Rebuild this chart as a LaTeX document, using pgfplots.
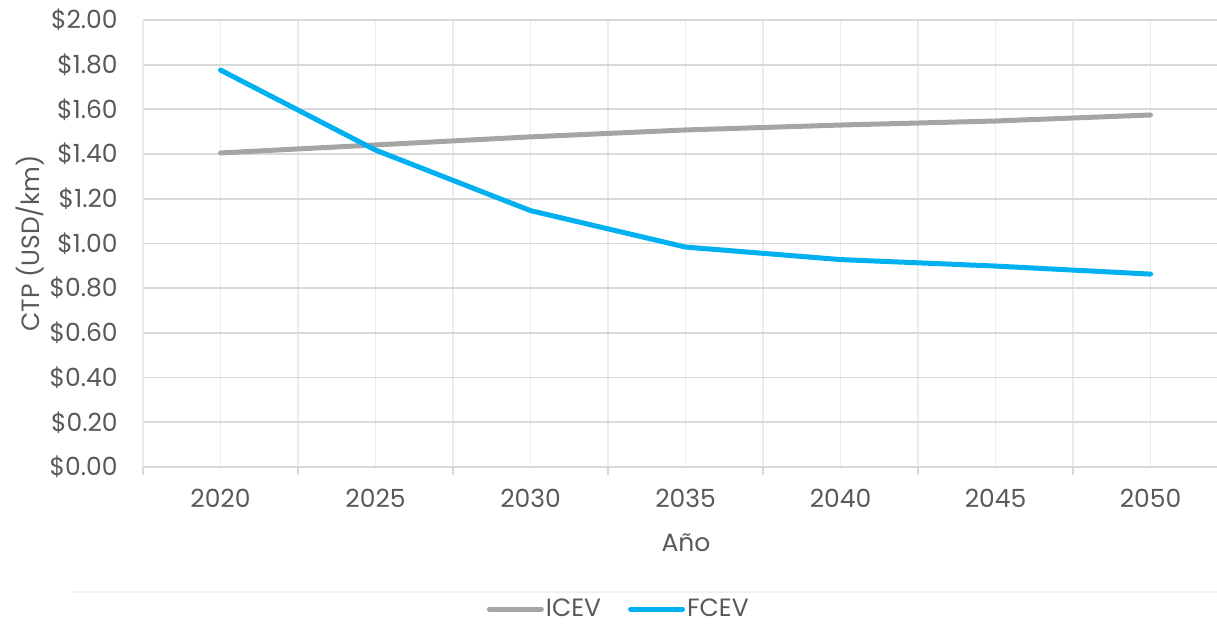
\documentclass[border=0pt]{standalone}
\usepackage{fontspec}
\setmainfont{Poppins}
\usepackage{pgfplots}
\pgfplotsset{compat=1.18}
\definecolor{txt}{HTML}{595959}
\definecolor{gridh}{HTML}{D9D9D9}
\definecolor{gridv}{HTML}{EBEBEB}
\definecolor{sepline}{HTML}{F0F0F0}
\definecolor{icev}{HTML}{A5A5A5}
\definecolor{fcev}{HTML}{00B0F0}
\newcommand{\lblfont}{\fontsize{12.5}{14}\selectfont}

\begin{document}
\begin{tikzpicture}
\begin{axis}[
  at={(0,0)}, anchor=south west,
  scale only axis, width=537pt, height=223.5pt,
  xmin=-0.5, xmax=6.429, ymin=0, ymax=2,
  axis lines*=left,
  x axis line style={gridh, line width=0.9pt},
  y axis line style={gridv, line width=0.9pt},
  xtick={0,1,2,3,4,5,6},
  xticklabels={2020,2025,2030,2035,2040,2045,2050},
  minor xtick={-0.5,0.5,1.5,2.5,3.5,4.5,5.5},
  ytick={0,0.2,0.4,0.6,0.8,1,1.2,1.4,1.6,1.8,2},
  yticklabel={\$\pgfmathprintnumber[fixed,fixed zerofill,precision=2]{\tick}},
  /pgf/number format/assume math mode=true,
  xmajorgrids, xminorgrids, ymajorgrids,
  x grid style={gridv, line width=0.9pt},
  y grid style={gridh, line width=0.9pt},
  minor grid style={gridv, line width=0.9pt},
  major tick length=0pt, minor tick length=4pt, tick align=outside,
  xtick style={draw=gridh, line width=0.9pt},
  ytick style={draw=none},
  ticklabel style={font=\lblfont, text=txt},
  yticklabel style={anchor=east, inner sep=0pt, xshift=-12.5pt},
  xticklabel style={anchor=north, inner sep=0pt, yshift=-11pt},
  xlabel={Año}, ylabel={CTP (USD/km)},
  label style={font=\lblfont, text=txt},
  xlabel style={at={(axis description cs:0.5056,-0.170)}, anchor=center},
  ylabel style={at={(axis description cs:-0.1052,0.5)}, anchor=center},
  legend columns=2,
  legend style={draw=none, fill=none, font=\lblfont, text=txt,
    at={(axis description cs:0.443,-0.318)}, anchor=center,
    nodes={inner sep=1pt},
    /tikz/every even column/.append style={column sep=12.5pt}},
  legend image code/.code={\draw[#1,line cap=round] (0pt,0pt) -- (26pt,0pt);},
]
\addplot[icev, line width=2.5pt, line cap=round, line join=round]
  coordinates {(0,1.405)(1,1.441)(2,1.477)(3,1.508)(4,1.530)(5,1.548)(6,1.575)};
\addlegendentry{ICEV}
\addplot[fcev, line width=2.5pt, line cap=round, line join=round]
  coordinates {(0,1.776)(1,1.418)(2,1.147)(3,0.984)(4,0.928)(5,0.899)(6,0.863)};
\addlegendentry{FCEV}
\end{axis}
\draw[sepline, line width=0.7pt] (-35.5pt,-62.5pt) -- (537pt,-62.5pt);
\pgfresetboundingbox
\path (-71.5pt,-78.5pt) rectangle (537pt,233.5pt);
\end{tikzpicture}
\end{document}
